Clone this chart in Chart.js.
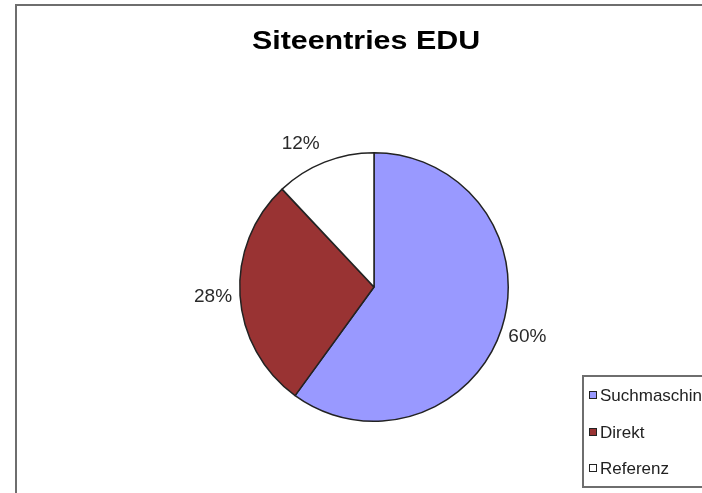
<!DOCTYPE html>
<html>
<head>
<meta charset="utf-8">
<script src="https://cdn.jsdelivr.net/npm/chart.js@4/dist/chart.umd.min.js"></script>
<style>
  html, body { margin: 0; padding: 0; background: #fff; }
  #wrap { width: 702px; height: 493px; position: relative; }
</style>
</head>
<body>
<div id="wrap"><canvas id="pie"></canvas></div>
<script>
// Siteentries EDU - Anteile der Zugriffsquellen
const TITLE = 'Siteentries EDU';
const LABELS = ['Suchmaschine', 'Direkt', 'Referenz'];
const VALUES = [60, 28, 12];
const COLORS = ['#9999FF', '#993333', '#FFFFFF'];

const FONT = "'Liberation Sans', Arial, sans-serif";
// kleine Verschiebungen der Prozentangaben (px)
const LABEL_NUDGE = [[0, 0], [0, 0], [-14, 7]];

const excelFrame = {
  id: 'excelFrame',
  afterDraw(chart) {
    const ctx = chart.ctx;
    const meta = chart.getDatasetMeta(0);
    const total = VALUES.reduce((a, b) => a + b, 0);
    ctx.save();

    // Rahmen des Diagrammbereichs
    ctx.strokeStyle = '#6e6e6e';
    ctx.lineWidth = 2;
    ctx.strokeRect(16, 5, 700, 520);

    // Titel
    ctx.fillStyle = '#000';
    ctx.font = 'bold 26px ' + FONT;
    ctx.textAlign = 'center';
    ctx.textBaseline = 'alphabetic';
    ctx.save();
    ctx.translate(366, 49);
    ctx.scale(1.17, 1);
    ctx.fillText(TITLE, 0, 0);
    ctx.restore();

    // Prozentangaben außerhalb der Segmente
    ctx.font = '19px ' + FONT;
    ctx.fillStyle = '#2a2a2a';
    ctx.textBaseline = 'middle';
    meta.data.forEach((arc, i) => {
      const p = arc.getProps(['x', 'y', 'startAngle', 'endAngle', 'outerRadius'], true);
      const mid = (p.startAngle + p.endAngle) / 2;
      const r = p.outerRadius + 27;
      const lx = p.x + Math.cos(mid) * r + LABEL_NUDGE[i][0];
      const ly = p.y + Math.sin(mid) * r + LABEL_NUDGE[i][1];
      ctx.fillText(Math.round(VALUES[i] / total * 100) + '%', lx, ly);
    });

    // Legende
    ctx.strokeStyle = '#6e6e6e';
    ctx.lineWidth = 2;
    ctx.fillStyle = '#fff';
    ctx.fillRect(583, 376, 140, 111);
    ctx.strokeRect(583, 376, 140, 111);
    ctx.font = '17px ' + FONT;
    ctx.textAlign = 'left';
    const rows = [395, 432, 468];
    LABELS.forEach((lab, i) => {
      ctx.fillStyle = COLORS[i];
      ctx.fillRect(589, rows[i] - 4, 8, 8);
      ctx.lineWidth = 1;
      ctx.strokeStyle = '#222';
      ctx.strokeRect(589.5, rows[i] - 3.5, 7, 7);
      ctx.fillStyle = '#222';
      ctx.fillText(lab, 600, rows[i] + 1);
    });

    ctx.restore();
  }
};

new Chart(document.getElementById('pie'), {
  type: 'pie',
  data: {
    labels: LABELS,
    datasets: [{
      data: VALUES,
      backgroundColor: COLORS,
      borderColor: '#222',
      borderWidth: 1.5
    }]
  },
  options: {
    responsive: true,
    maintainAspectRatio: false,
    animation: false,
    layout: { padding: { left: 239, right: 193, top: 152, bottom: 71 } },
    plugins: {
      legend: { display: false },
      tooltip: { enabled: false },
      title: { display: false }
    }
  },
  plugins: [excelFrame]
});
</script>
</body>
</html>
